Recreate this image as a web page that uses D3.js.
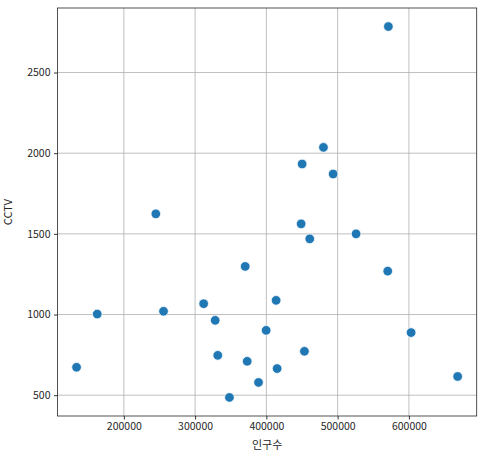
<!DOCTYPE html>
<html><head><meta charset="utf-8">
<script src="https://cdn.jsdelivr.net/npm/d3@7"></script>
<style>body{margin:0;background:#fff;} text{font-family:"Noto Sans CJK KR","Noto Sans",sans-serif;}</style>
</head><body>
<svg id="chart" width="485" height="455"></svg>
<script>
const population = [133660, 162700, 244900, 255700, 312000, 328200, 331800, 370300, 373100, 348200, 389000, 399700, 413700, 415100, 450200, 448800, 453400, 460900, 480100, 493700, 525900, 571200, 570300, 603100, 668400];
const cctv = [673, 1003, 1624, 1020, 1067, 964, 747, 1298, 710, 486, 579, 902, 1088, 665, 1933, 1562, 772, 1469, 2036, 1871, 1500, 2785, 1269, 888, 616];
const xTicks = [200000, 300000, 400000, 500000, 600000];
const yTicks = [500, 1000, 1500, 2000, 2500];
const xLabel = "인구수";
const yLabel = "CCTV";

const svg = d3.select("#chart");
const L = 57.5, R = 476.7, T = 8, B = 416;
const xMin = d3.min(population), xMax = d3.max(population);
const yMin = d3.min(cctv), yMax = d3.max(cctv);
const xPad = (xMax - xMin) * 0.05, yPad = (yMax - yMin) * 0.05;
const x = d3.scaleLinear().domain([xMin - xPad, xMax + xPad]).range([L, R]);
const y = d3.scaleLinear().domain([yMin - yPad, yMax + yPad]).range([B, T]);

// grid
svg.append("g").selectAll("line").data(xTicks).join("line")
  .attr("x1", d => x(d)).attr("x2", d => x(d)).attr("y1", T).attr("y2", B)
  .attr("stroke", "#b0b0b0").attr("stroke-width", 0.8);
svg.append("g").selectAll("line").data(yTicks).join("line")
  .attr("y1", d => y(d)).attr("y2", d => y(d)).attr("x1", L).attr("x2", R)
  .attr("stroke", "#b0b0b0").attr("stroke-width", 0.8);

// axes
const xAxis = svg.append("g").attr("transform", `translate(0,${B})`)
  .call(d3.axisBottom(x).tickValues(xTicks).tickFormat(d3.format("d")).tickSize(3.5).tickPadding(3.5));
const yAxis = svg.append("g").attr("transform", `translate(${L},0)`)
  .call(d3.axisLeft(y).tickValues(yTicks).tickFormat(d3.format("d")).tickSize(3.5).tickPadding(3.5));
[xAxis, yAxis].forEach(a => {
  a.select(".domain").remove();
  a.selectAll("line").attr("stroke", "#000").attr("stroke-width", 0.8);
  a.selectAll("text").attr("fill", "#262626").attr("font-size", 10.5)
    .style("font-family", '"Noto Sans CJK KR", sans-serif');
});

// frame
svg.append("rect").attr("x", L).attr("y", T).attr("width", R - L).attr("height", B - T)
  .attr("fill", "none").attr("stroke", "#262626").attr("stroke-width", 0.8);

// points
svg.append("g").selectAll("circle").data(population.map((p, i) => [p, cctv[i]])).join("circle")
  .attr("cx", d => x(d[0])).attr("cy", d => y(d[1])).attr("r", 4.8)
  .attr("fill", "#1f77b4").attr("stroke", "#fff").attr("stroke-width", 0.75);

// labels
svg.append("text").attr("x", (L + R) / 2).attr("y", 449).attr("text-anchor", "middle")
  .attr("font-size", 11).attr("fill", "#262626").text(xLabel);
svg.append("text").attr("transform", `translate(12,${(T + B) / 2}) rotate(-90)`)
  .attr("text-anchor", "middle").attr("font-size", 11).attr("fill", "#262626").text(yLabel);
</script>
</body></html>
